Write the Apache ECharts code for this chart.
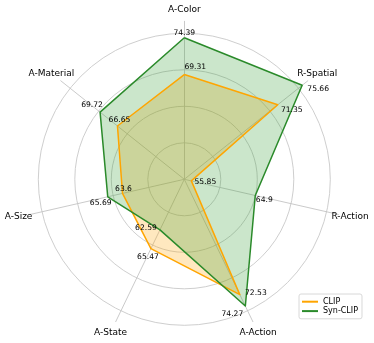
<!DOCTYPE html>
<html>
<head>
<meta charset="utf-8">
<script src="https://cdn.jsdelivr.net/npm/echarts@6/dist/echarts.min.js"></script>
<style>html,body{margin:0;padding:0;background:#fff}#c{width:374px;height:343px}</style>
</head>
<body>
<div id="c"></div>
<script>
// Data (clockwise from top)
var categories = ['A-Color', 'R-Spatial', 'R-Action', 'A-Action', 'A-State', 'A-Size', 'A-Material'];
var seriesNames = ['CLIP', 'Syn-CLIP'];
var clipValues = [69.31, 71.35, 55.85, 72.53, 65.47, 63.6, 66.65];
var synClipValues = [74.39, 75.66, 64.9, 74.27, 62.59, 65.69, 69.72];
var radialMin = 54.85;
var radialMax = 76.66;

// Label placement tweaks (pixel offsets of value labels relative to their point)
var clipLabelOffsets = [[11,-8],[14,5],[14,1],[16,-2],[-3,8],[1,-4],[2,-6]];
var synLabelOffsets = [[0,-5],[16,4],[9,5],[-13,8],[-14,-2],[-7,6],[-8,-7]];

var center = [184.3, 179.3];
var R = 158;
var nameR = 170;
var pxPerUnit = R / (radialMax - radialMin);
var polarMax = radialMin + nameR / pxPerUnit;

var colors = ['#FFA500', '#2a8a2a'];
var fills = ['#FFA500', '#2e9a2e'];
var font = 'DejaVu Sans';
var textColor = '#000000';

// ECharts radar goes counter-clockwise: reorder
var order = [0, 6, 5, 4, 3, 2, 1];
function reorder(arr) { return order.map(function (i) { return arr[i]; }); }

var indicators = reorder(categories).map(function (n) { return { name: n, min: radialMin, max: radialMax }; });
var allValues = [clipValues, synClipValues];

function labelSeries(values, offsets, name) {
  return {
    type: 'scatter', coordinateSystem: 'polar', name: name + '-labels', silent: true,
    symbolSize: 0.1, itemStyle: { color: 'rgba(0,0,0,0)' }, z: 10,
    data: values.map(function (v, i) {
      return { value: [v, i], label: { offset: offsets[i] } };
    }),
    label: {
      show: true, position: 'inside', color: textColor, opacity: 1, textBorderWidth: 0,
      fontFamily: font, fontSize: 7.6,
      formatter: function (p) { return String(p.value[0]); }
    }
  };
}

var option = {
  animation: false,
  textStyle: { fontFamily: font },
  legend: {
    data: seriesNames,
    orient: 'vertical', left: 299, top: 294,
    padding: [3, 4, 3, 3],
    itemGap: 0, itemWidth: 16, itemHeight: 2, icon: 'rect',
    borderColor: '#d8d8d8', borderWidth: 1, borderRadius: 2,
    textStyle: { fontFamily: font, fontSize: 8, color: textColor, lineHeight: 9.4 }
  },
  radar: [
    {
      center: center, radius: 146, splitNumber: 4, shape: 'circle',
      indicator: indicators.map(function (d) { return { name: d.name, min: d.min, max: d.max }; }),
      axisName: { show: false },
      axisLine: { show: false },
      splitArea: { show: false },
      splitLine: { lineStyle: { color: '#c8c8c8', width: 0.9 } },
      axisTick: { show: false }, axisLabel: { show: false }
    },
    {
      center: center, radius: R, splitNumber: 4, shape: 'circle',
      indicator: indicators,
      axisName: { show: false },
      axisLine: { lineStyle: { color: '#c4c4c4', width: 0.9 } },
      splitArea: { show: false },
      splitLine: { show: false },
      axisTick: { show: false }, axisLabel: { show: false }
    }
  ],
  polar: { center: center, radius: nameR },
  angleAxis: {
    type: 'category', data: categories, startAngle: 90, clockwise: true, boundaryGap: false,
    axisLine: { show: false }, axisTick: { show: false }, axisLabel: { show: false }, splitLine: { show: false }
  },
  radiusAxis: {
    type: 'value', min: radialMin, max: polarMax,
    axisLine: { show: false }, axisTick: { show: false }, axisLabel: { show: false }, splitLine: { show: false }
  },
  series: [
    {
      type: 'radar', radarIndex: 1, symbol: 'none', silent: true, z: 2,
      data: seriesNames.map(function (n, k) {
        return { name: n, value: reorder(allValues[k]),
          itemStyle: { color: colors[k] },
          lineStyle: { width: 0, opacity: 0 },
          areaStyle: { color: fills[k], opacity: 0.25 } };
      })
    },
    {
      type: 'radar', radarIndex: 1, symbol: 'none', silent: true, z: 3,
      data: seriesNames.map(function (n, k) {
        return { name: n, value: reorder(allValues[k]),
          itemStyle: { color: colors[k] },
          lineStyle: { color: colors[k], width: 1.5 } };
      })
    },
    labelSeries(clipValues, clipLabelOffsets, 'CLIP'),
    labelSeries(synClipValues, synLabelOffsets, 'Syn-CLIP'),
    {
      type: 'scatter', coordinateSystem: 'polar', silent: true, name: 'names',
      symbolSize: 0.1, itemStyle: { color: 'rgba(0,0,0,0)' }, z: 10,
      data: categories.map(function (c, i) { return [polarMax, i]; }),
      label: {
        show: true, position: 'inside', color: textColor, opacity: 1, textBorderWidth: 0,
        fontFamily: font, fontSize: 9,
        formatter: function (p) { return categories[p.dataIndex]; }
      }
    }
  ]
};

var chart = echarts.init(document.getElementById('c'), null, { renderer: 'canvas' });
chart.setOption(option);
</script>
</body>
</html>
